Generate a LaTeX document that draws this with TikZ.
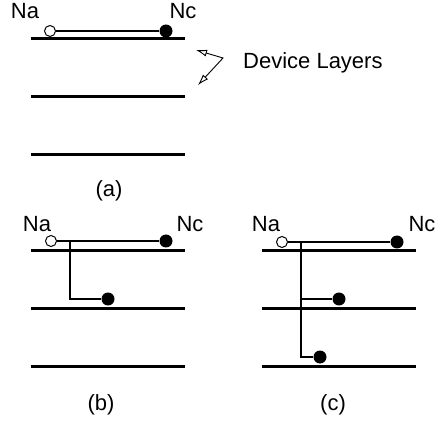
\documentclass[tikz,border=0pt]{standalone}
\usepackage{fontspec}
\setmainfont{Liberation Sans}
\usetikzlibrary{arrows.meta}
\tikzset{
  layer/.style={fill=black},
  wire/.style={line width=1.2pt},
  via/.style={circle,fill=black,minimum size=13pt,inner sep=0pt},
  port/.style={circle,draw,fill=white,minimum size=11pt,inner sep=0pt,line width=1pt},
  tag/.style={font=\fontsize{22}{26}\selectfont,inner sep=0pt,anchor=base},
  caption/.style={font=\fontsize{22}{26}\selectfont,inner sep=0pt},
  pointer/.style={line width=0.9pt,{Latex[open,length=11pt,width=7pt]}-{Latex[open,length=11pt,width=7pt]}}
}
\begin{document}
\begin{tikzpicture}[x=1pt,y=-1pt]
\useasboundingbox (0,0) rectangle (437,425);

% (a): single wire on the top layer
\fill[layer] (31,37.5) rectangle (185,40.5);
\fill[layer] (31,95.5) rectangle (185,98.5);
\fill[layer] (31,153.5) rectangle (185,156.5);
\node[tag] (naA) at (25,19) {Na};
\node[tag] (ncA) at (183,19) {Nc};
\node[port] (pa) at (50,31) {};
\node[via] (va) at (166,31) {};
\draw[wire] (pa) -- (va);
\coordinate (tipup) at (196,50);
\coordinate (bend) at (223,58);
\coordinate (tipdn) at (198,85);
\draw[pointer] (tipup) -- (bend) -- (tipdn);
\node[tag,anchor=base west] (dev) at (243,69) {Device Layers};
\node[caption] (capA) at (109,191) {(a)};

% (b): branch down to the second layer
\fill[layer] (31,249.5) rectangle (185,252.5);
\fill[layer] (31,306.5) rectangle (185,309.5);
\fill[layer] (31,364.5) rectangle (185,367.5);
\node[tag] (naB) at (37,232) {Na};
\node[tag] (ncB) at (190,232) {Nc};
\node[port] (pb) at (51,241) {};
\node[via] (vb) at (166,241) {};
\node[via] (vb2) at (108,299) {};
\draw[wire] (pb) -- (vb);
\coordinate (jb) at (70,241);
\draw[wire] (jb) |- (vb2);
\node[caption] (capB) at (101,405) {(b)};

% (c): branches down to the second and third layers
\fill[layer] (262,249.5) rectangle (416,252.5);
\fill[layer] (262,306.5) rectangle (416,309.5);
\fill[layer] (262,364.5) rectangle (416,367.5);
\node[tag] (naC) at (266,232) {Na};
\node[tag] (ncC) at (422,232) {Nc};
\node[port] (pc) at (282,242) {};
\node[via] (vc) at (397,242) {};
\node[via] (vc2) at (339,299) {};
\node[via] (vc3) at (320,357) {};
\draw[wire] (pc) -- (vc);
\coordinate (jc) at (301,242);
\draw[wire] (jc) |- (vc2);
\draw[wire] (jc) |- (vc3);
\node[caption] (capC) at (333,405) {(c)};

\end{tikzpicture}
\end{document}
